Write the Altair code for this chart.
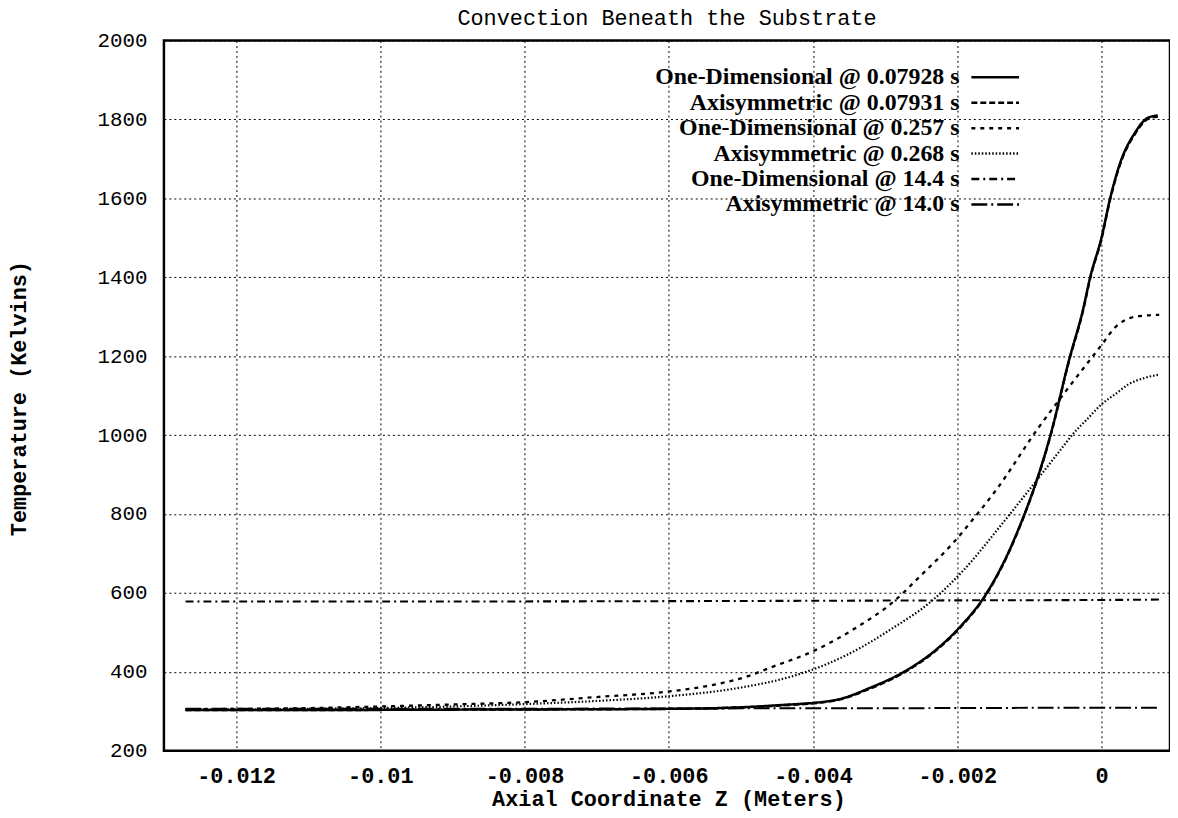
import altair as alt
import pandas as pd

series_names = [
    "One-Dimensional @ 0.07928 s",
    "Axisymmetric @ 0.07931 s",
    "One-Dimensional @ 0.257 s",
    "Axisymmetric @ 0.268 s",
    "One-Dimensional @ 14.4 s",
    "Axisymmetric @ 14.0 s",
]

# One-Dimensional @ 0.07928 s
z_1 = [-0.0127, -0.011, -0.009, -0.007, -0.006, -0.0053, -0.0045, -0.0037, -0.0032, -0.0027,
       -0.0023, -0.00196, -0.0016, -0.0012, -0.0007, -0.00045, -0.00026, -0.00015, 0.0,
       0.00012, 0.00025, 0.00047, 0.00065, 0.00078]
t_1 = [303, 303, 304, 305, 306, 308, 315, 328, 360, 404,
       455, 514, 597, 740, 1005, 1190, 1315, 1405, 1500,
       1600, 1685, 1768, 1805, 1810]

# Axisymmetric @ 0.07931 s
z_2 = [-0.0127, -0.011, -0.009, -0.007, -0.006, -0.0053, -0.0045, -0.0037, -0.0032, -0.0027,
       -0.0023, -0.00196, -0.0016, -0.0012, -0.0007, -0.00045, -0.00026, -0.00015, 0.0,
       0.00012, 0.00025, 0.00047, 0.00065, 0.00078]
t_2 = [303, 303, 304, 305, 306, 308, 314, 327, 358, 402,
       453, 512, 595, 738, 1003, 1188, 1312, 1402, 1497,
       1597, 1682, 1765, 1802, 1807]

# One-Dimensional @ 0.257 s
z_3 = [-0.0127, -0.011, -0.01, -0.009, -0.008, -0.007, -0.006, -0.0053, -0.0049, -0.0046,
       -0.004, -0.0034, -0.0029, -0.0025, -0.00205, -0.00182, -0.00146, -0.00088, -0.0005,
       0.0, 0.0002, 0.0004, 0.0006, 0.0008]
t_3 = [305, 308, 312, 317, 323, 336, 350, 370, 389, 410,
       452, 512, 575, 645, 728, 778, 861, 1017, 1110,
       1228, 1275, 1297, 1303, 1305]

# Axisymmetric @ 0.268 s
z_4 = [-0.0127, -0.011, -0.01, -0.009, -0.008, -0.007, -0.006, -0.005, -0.0043, -0.0038,
       -0.00333, -0.0029, -0.00237, -0.0019, -0.0014, -0.0009, -0.0006, -0.00037, -0.0002,
       0.0, 0.0002, 0.00037, 0.0006, 0.0008]
t_4 = [304, 306, 308, 312, 318, 326, 338, 360, 388, 420,
       462, 510, 577, 660, 770, 885, 955, 1008, 1040,
       1078, 1105, 1128, 1145, 1153]

# One-Dimensional @ 14.4 s
z_5 = [-0.0127, -0.01, -0.006, -0.002, 0.0, 0.0008]
t_5 = [578, 578, 579, 581, 582, 583]

# Axisymmetric @ 14.0 s
z_6 = [-0.0127, -0.01, -0.006, -0.002, 0.0, 0.0008]
t_6 = [306, 306, 307, 308, 309, 309]

x_ticks = [-0.012, -0.010, -0.008, -0.006, -0.004, -0.002, 0.0]
y_ticks = [200, 400, 600, 800, 1000, 1200, 1400, 1600, 1800, 2000]

dashes = [[1, 0], [6, 3], [4, 5], [1.5, 2], [8, 4, 2, 4], [16, 4, 2, 4]]
widths = [2.5, 2, 2.5, 1.5, 2.5, 2.5]

rows = []
for name, zs, ts in zip(series_names, [z_1, z_2, z_3, z_4, z_5, z_6],
                        [t_1, t_2, t_3, t_4, t_5, t_6]):
    for i, (z, t) in enumerate(zip(zs, ts)):
        rows.append({"series": name, "z": z, "T": t, "i": i})
df = pd.DataFrame(rows)
legend_df = pd.DataFrame({"series": series_names})

mono = "Liberation Mono"
serif = "Liberation Serif"

dash_scale = alt.Scale(domain=series_names, range=dashes)
width_scale = alt.Scale(domain=series_names, range=widths)
# legend rows: a point scale spreading the six entries down the top-right corner
row_scale = alt.Scale(type="point", domain=series_names, range=[37, 165], padding=0)

lines = alt.Chart(df).mark_line(color="black", interpolate="monotone").encode(
    x=alt.X("z:Q",
            scale=alt.Scale(domain=[-0.013, 0.00095], nice=False, zero=False),
            axis=alt.Axis(values=x_ticks, format="~g",
                          labelExpr="replace(datum.label, '\u2212', '-')",
                          title="Axial Coordinate Z  (Meters)",
                          titleX=508, titleY=48, titleBaseline="middle",
                          labelFontWeight="bold", labelFontSize=22, labelPadding=15)),
    y=alt.Y("T:Q",
            scale=alt.Scale(domain=[200, 2000], nice=False, zero=False),
            axis=alt.Axis(values=y_ticks, format="d",
                          title="Temperature (Kelvins)",
                          titleX=-146, titleY=360, titleBaseline="middle", titleAlign="center",
                          labelFontSize=21, labelPadding=17)),
    strokeDash=alt.StrokeDash("series:N", scale=dash_scale, legend=None),
    strokeWidth=alt.StrokeWidth("series:N", scale=width_scale, legend=None),
    order="i:Q",
)

legend_text = alt.Chart(legend_df).mark_text(
    align="right", baseline="middle", font=serif, fontWeight="bold",
    fontSize=24, color="black",
).encode(
    x=alt.value(801),
    y=alt.Y("series:N", scale=row_scale, axis=None),
    text="series:N",
)

legend_lines = alt.Chart(legend_df).mark_rule(color="black", strokeWidth=2.5).encode(
    x=alt.value(813),
    x2=alt.value(861),
    y=alt.Y("series:N", scale=row_scale, axis=None),
    strokeDash=alt.StrokeDash("series:N", scale=dash_scale, legend=None),
)

chart = alt.layer(lines, legend_text, legend_lines).resolve_scale(
    y="independent"
).properties(
    width=1013, height=715,
    padding={"left": 157, "top": 30, "right": 0, "bottom": 64},
    autosize=alt.AutoSizeParams(type="none"),
    title=alt.TitleParams("Convection Beneath the Substrate", font=mono, fontSize=22,
                          fontWeight="normal", color="black", offset=14, dy=14,
                          anchor="middle"),
).configure_axis(
    grid=True, gridColor="black", gridDash=[2, 3], gridWidth=1, gridOpacity=1,
    domain=False, ticks=False,
    labelFont=mono, labelColor="black",
    titleFont=mono, titleFontSize=22, titleFontWeight="bold", titleColor="black",
).configure_view(
    stroke="black", strokeWidth=2.5
)

chart.save("out.html", embed_options={"renderer": "svg", "actions": False})
